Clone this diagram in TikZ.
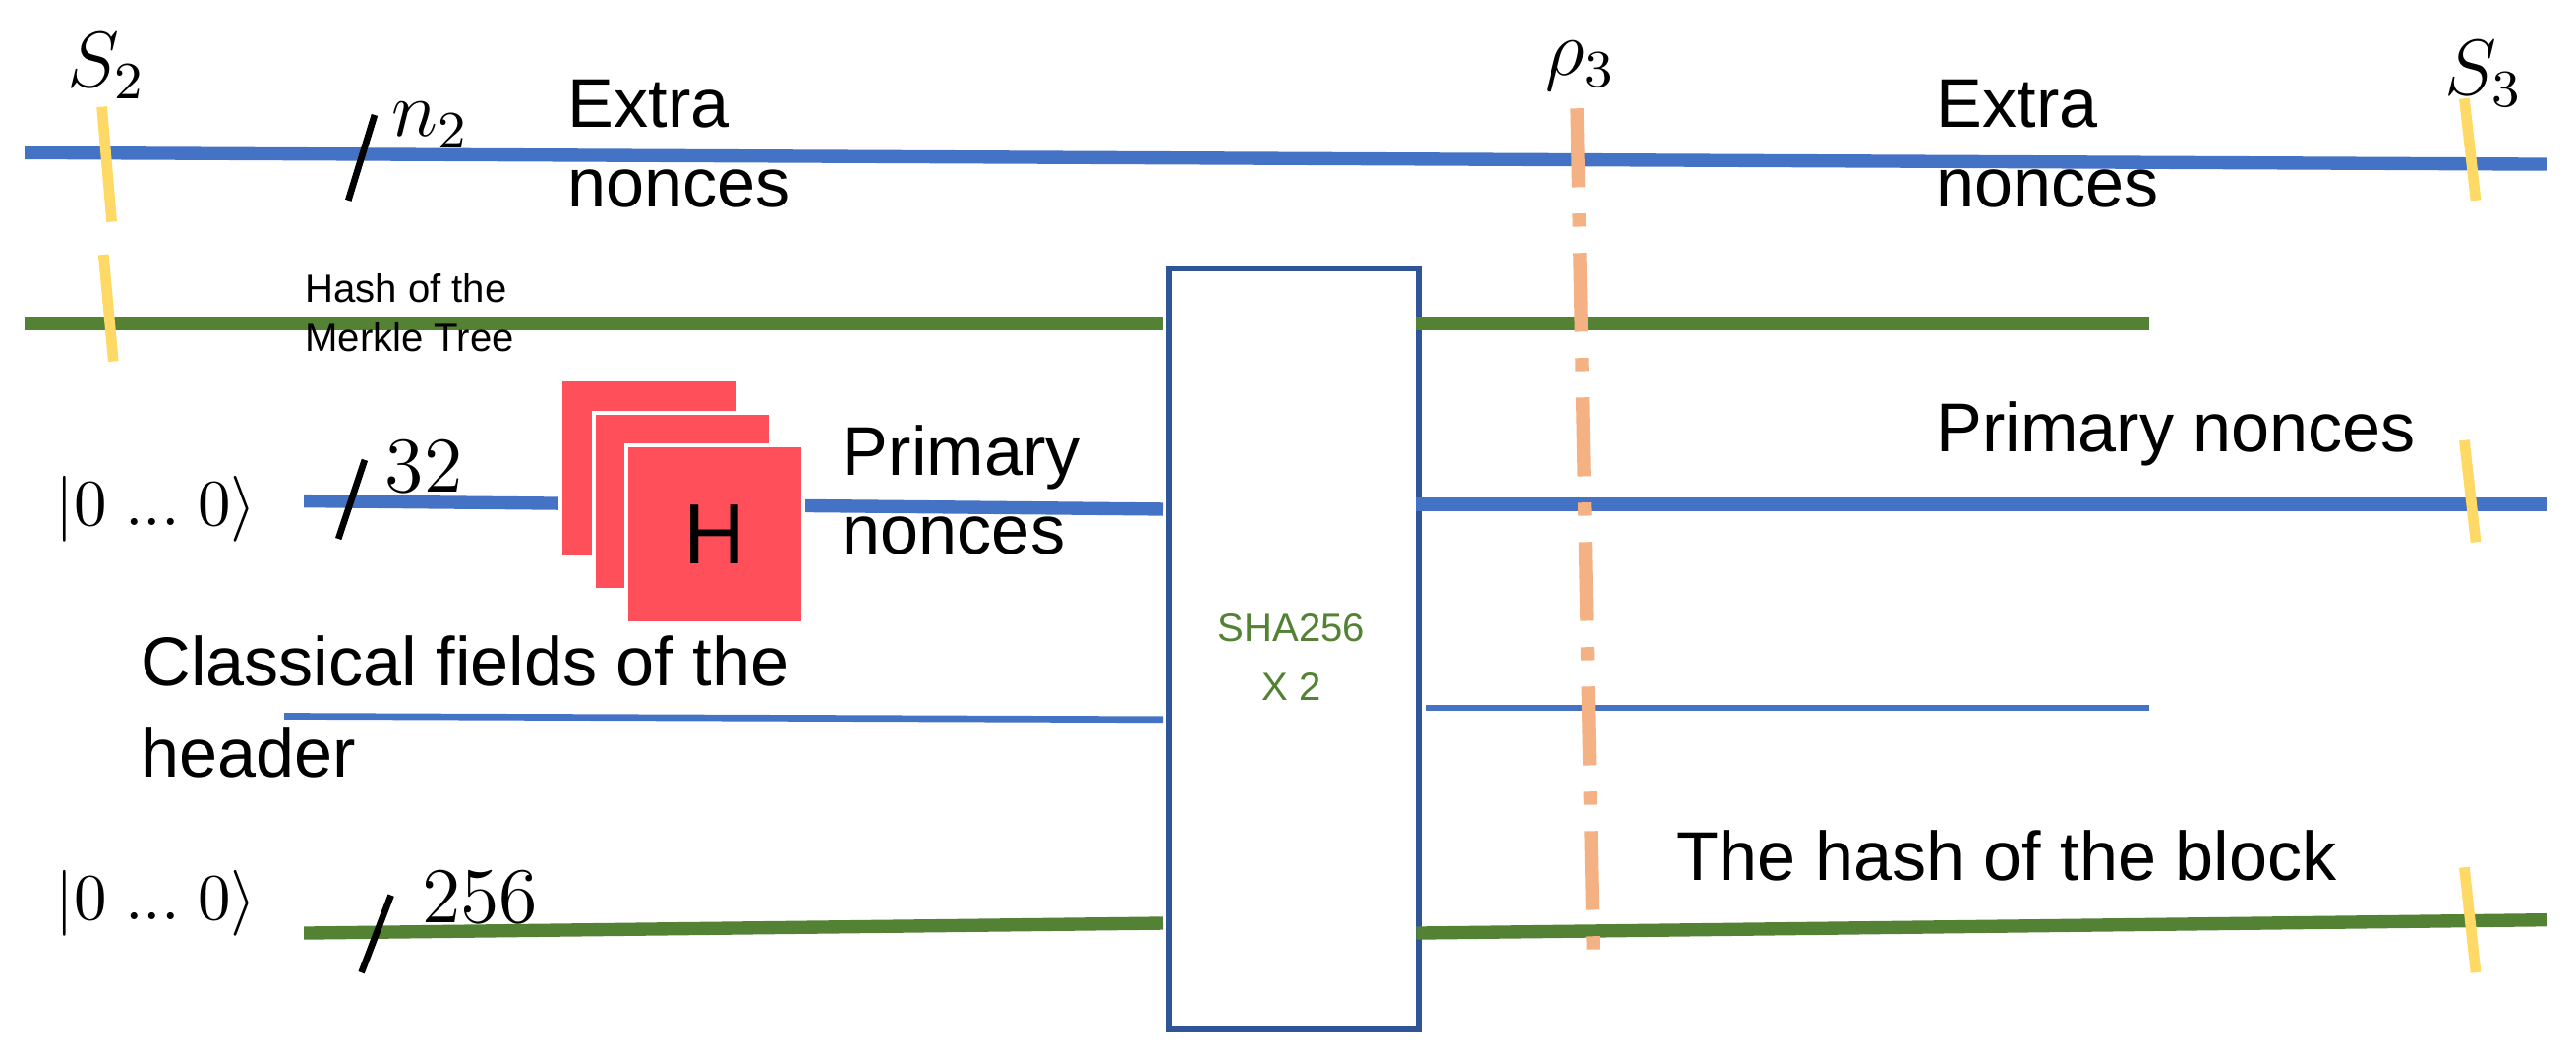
\documentclass[tikz,border=0pt]{standalone}
\usepackage{fontspec}
\setmainfont{Liberation Sans}
\definecolor{wireblue}{HTML}{4472C4}
\definecolor{wiregreen}{HTML}{548235}
\definecolor{cutyellow}{HTML}{FFD966}
\definecolor{cutorange}{HTML}{F4B183}
\definecolor{gatered}{HTML}{FF4F5A}
\definecolor{boxblue}{HTML}{2F5597}
\tikzset{
	qwire/.style={draw=wireblue, line width=2pt},
	cwire/.style={draw=wireblue, line width=1pt},
	gwire/.style={draw=wiregreen, line width=2pt},
	cut/.style={draw=cutyellow, line width=1.6pt},
	bus/.style={draw=black, line width=1pt},
	lbl/.style={font=\fontsize{10.5}{12}\selectfont, align=left, anchor=north west, inner sep=0pt},
	small lbl/.style={font=\fontsize{6}{7.5}\selectfont, align=left, anchor=north west, inner sep=0pt},
	mlbl/.style={font=\fontsize{12}{14}\selectfont, inner sep=0pt},
	klbl/.style={font=\fontsize{10}{12}\selectfont, inner sep=0pt},
	hgate/.style={fill=gatered, draw=white, line width=0.6pt, minimum size=27pt, inner sep=0pt, anchor=north west, font=\fontsize{13}{15}\selectfont}
}
\begin{document}
\begin{tikzpicture}[x=0.25pt,y=-0.25pt]
	\useasboundingbox (0,0) rectangle (1568,638);

	% SHA box
	\node (sha) [draw=boxblue, line width=0.8pt, minimum width=38pt, minimum height=115.75pt, anchor=north west, inner sep=0pt] at (710,162) {};
	\node [text=wiregreen, font=\fontsize{6}{9}\selectfont, align=center] at (786,400) {SHA256\\X 2};

	% wire end points
	\coordinate (e1l) at (15,93);   \coordinate (e1r) at (1550,100);
	\coordinate (m1l) at (15,197);  \coordinate (m1a) at (708,197);
	\coordinate (m1b) at (862,197); \coordinate (m1r) at (1308,197);
	\coordinate (p1l) at (185,305); \coordinate (p1a) at (708,310);
	\coordinate (p1b) at (862,307); \coordinate (p1r) at (1550,307);
	\coordinate (c1l) at (173,436); \coordinate (c1a) at (708,438);
	\coordinate (c1b) at (868,431); \coordinate (c1r) at (1308,431);
	\coordinate (h1l) at (185,568); \coordinate (h1a) at (708,562);
	\coordinate (h1b) at (862,568); \coordinate (h1r) at (1550,560);

	% wires
	\draw [qwire] (e1l) -- (e1r);
	\draw [gwire] (m1l) -- (m1a);
	\draw [gwire] (m1b) -- (m1r);
	\draw [qwire] (p1l) -- (p1a);
	\draw [qwire] (p1b) -- (p1r);
	\draw [cwire] (c1l) -- (c1a);
	\draw [cwire] (c1b) -- (c1r);
	\draw [gwire] (h1l) -- (h1a);
	\draw [gwire] (h1b) -- (h1r);

	% H gates
	\node (h1) [hgate] at (340,230) {};
	\node (h2) [hgate] at (360,250) {};
	\node (h3) [hgate] at (380,270) {H};

	% bus slashes
	\draw [bus] (212,122) -- (228,70);
	\draw [bus] (206,328) -- (222,280);
	\draw [bus] (220,592) -- (238,545);
	\node [mlbl] at (262,76) {$n_2$};
	\node [mlbl] at (258,284) {$32$};
	\node [mlbl] at (292,546) {$256$};

	% cuts
	\draw [cut] (62,65) -- (68,135);
	\draw [cut] (63,155) -- (69,220);
	\draw [cut] (1500,60) -- (1507,122);
	\draw [cut] (1500,268) -- (1507,330);
	\draw [cut] (1500,528) -- (1507,592);
	\draw [draw=cutorange, line width=2pt, dash pattern=on 12pt off 4pt on 2pt off 4pt] (960,66) -- (970,592);

	\node [mlbl] at (65,40) {$S_2$};
	\node [mlbl] at (962,40) {$\rho_3$};
	\node [mlbl] at (1512,45) {$S_3$};
	\node [klbl] at (95,310) {$|0\;...\;0\rangle$};
	\node [klbl] at (95,550) {$|0\;...\;0\rangle$};

	% texts
	\node [lbl] at (345,48) {Extra\\nonces};
	\node [lbl] at (1178,48) {Extra\\nonces};
	\node [small lbl] at (185,166) {Hash of the\\Merkle Tree};
	\node [lbl] at (512,258) {Primary\\nonces};
	\node [lbl, font=\fontsize{10.5}{14}\selectfont] at (85,386) {Classical fields of the\\header};
	\node [lbl] at (1178,244) {Primary nonces};
	\node [lbl] at (1020,505) {The hash of the block};
\end{tikzpicture}
\end{document}
